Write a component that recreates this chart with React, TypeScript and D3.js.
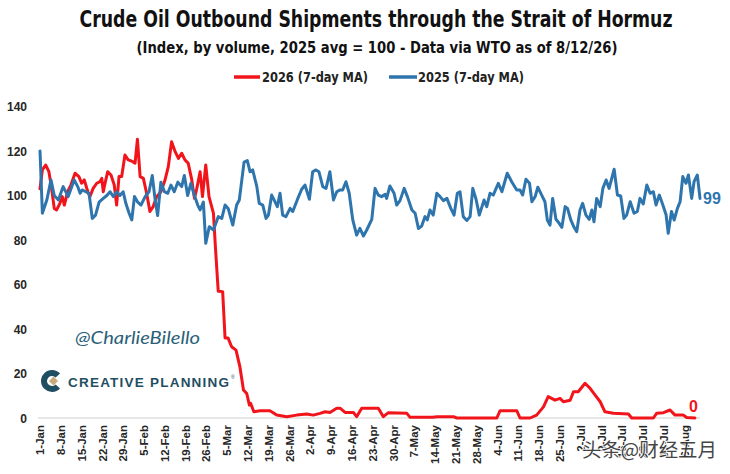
import React from "react";
import * as d3 from "d3";

const W = 730;
const H = 474;

const xTickLabels = [
  "1-Jan", "8-Jan", "15-Jan", "22-Jan", "29-Jan", "5-Feb", "12-Feb", "19-Feb", "26-Feb",
  "5-Mar", "12-Mar", "19-Mar", "26-Mar", "2-Apr", "9-Apr", "16-Apr", "23-Apr", "30-Apr",
  "7-May", "14-May", "21-May", "28-May", "4-Jun", "11-Jun", "18-Jun", "25-Jun",
  "2-Jul", "9-Jul", "16-Jul", "23-Jul", "30-Jul", "6-Aug",
];
const xTickDays = xTickLabels.map((_, i) => i * 7);
const yTicks = [0, 20, 40, 60, 80, 100, 120, 140];

// [day offset from 1-Jan, index value]
const series2026: [number, number][] = [
  [0, 103], [0.8, 111.5], [1.9, 113.7], [3, 110.7], [3.9, 103.2], [4.8, 94.2], [5.6, 93.5],
  [6.7, 96.5], [7.5, 99.5], [8.2, 95.7], [9.3, 101.7], [10.4, 104.7], [11.8, 110], [13.1, 108.5],
  [14, 105.5], [14.9, 107], [16.1, 101.7], [16.8, 99.5], [17.9, 103.2], [19.1, 105.5], [20.2, 106.2],
  [20.8, 107.7], [21.3, 101.7], [21.9, 105.5], [22.8, 110.7], [23.9, 109.2], [25, 104.7], [25.8, 95.7],
  [26.6, 108.5], [27.5, 108.5], [28.6, 118.2], [29.7, 116], [31.1, 115.3], [32, 114.5], [32.8, 125.3],
  [33.7, 108.5], [34.8, 107.7], [35.9, 101], [37, 92.8], [38.1, 95], [39.3, 99.5], [40.7, 101.7],
  [42.1, 107], [43.2, 113], [44.3, 124.2], [45.5, 119.7], [46.6, 116.7], [47.7, 119], [48.8, 116],
  [49.9, 114.5], [51.1, 107], [52, 98.7], [52.8, 103.2], [53.9, 110.7], [54.7, 99.5], [55.8, 113.7],
  [56.9, 99.5], [58.4, 92], [59, 78], [60, 57], [61.5, 56.8], [62.3, 36], [63.3, 36], [64.5, 32],
  [66, 30.5], [67.3, 23], [68.5, 12.6], [69.6, 11], [70.5, 5.8], [70.9, 6.6], [72, 2.8], [74.1, 3.3],
  [77.4, 3.3], [79.7, 1.3], [83.1, 0.6], [86.4, 1.3], [89.8, 1.8], [92, 1.3], [94.3, 2.1], [96, 2.8],
  [97.6, 2.5], [99.9, 4.4], [101, 4.4], [102.7, 2.5], [105.5, 2.5], [106.6, 0.6], [108.3, 4.4],
  [113.9, 4.4], [115.6, 0.6], [117.3, 2.4], [123.5, 2.1], [124.6, 0.3], [132.3, 0.3], [133.6, 0.6],
  [139.2, 0.6], [140.3, 0], [153.8, 0], [154.9, 3.3], [160.5, 3.3], [161.6, 0], [165, 0], [167.2, 1.3],
  [169.5, 5], [171.1, 9.6], [173.4, 8], [175.1, 8.8], [176.2, 7.3], [178.5, 8], [179.6, 11.8],
  [181.2, 11.8], [183.5, 15.6], [185.2, 13.3], [186.9, 10.3], [188.6, 7.3], [190.2, 2.8], [193, 2.1],
  [198.1, 1.8], [199.2, 0], [206.5, 0], [207.6, 2.1], [209.9, 2.4], [212.1, 3.6], [213.8, 1.3],
  [216.6, 1.3], [217.7, 0.2], [220.5, 0],
];

const series2025: [number, number][] = [
  [0, 120], [0.8, 92], [2.3, 98], [3.7, 107], [4.8, 100], [6.2, 98], [7.8, 104], [9.5, 99.5],
  [11.5, 107], [12.7, 104], [13.5, 101], [14.2, 102.5], [15.4, 101.7], [16.5, 101], [17.6, 89.7],
  [18.7, 91.2], [19.9, 97], [21.3, 98.7], [22.5, 100], [23.6, 101.7], [24.7, 99.5], [25.8, 101.7],
  [26.9, 100], [28, 101.7], [28.9, 96.5], [30, 92], [30.9, 89], [31.8, 99.5], [32.9, 97], [34, 95.7],
  [35.4, 99.5], [36.7, 101.7], [37.8, 109], [38.7, 98.7], [39.6, 91], [40.7, 106], [41.9, 101.7],
  [43, 101], [44.1, 104.7], [45.2, 101.7], [46.4, 106], [47.7, 104], [48.6, 109], [49.7, 100],
  [50.8, 105.5], [52, 100], [53.1, 95.7], [53.9, 93.5], [55, 97], [55.8, 78.5], [57, 86], [58.4, 84.5],
  [60, 90.5], [61.2, 89.7], [62.3, 95.7], [63.4, 94], [64.9, 86.7], [66.2, 95.7], [67.1, 98],
  [68.7, 115], [69.8, 115.7], [70.7, 110.7], [71.6, 111.5], [73, 104], [73.8, 96.5], [75, 95.7],
  [76.1, 89.7], [76.9, 91.2], [78, 100.2], [78.8, 98], [79.9, 95], [80.8, 101], [81.7, 91.2],
  [82.8, 90.5], [84.2, 94.2], [85.1, 92.8], [86.6, 98], [88.1, 102.8], [89.2, 104.7], [90.7, 98.3],
  [91.8, 110.7], [92.9, 111.5], [93.9, 110.7], [95.2, 104], [96.3, 103.2], [97.6, 110.7], [98.8, 98],
  [99.9, 101.7], [101, 102.5], [101.9, 102.5], [103, 106.2], [104.1, 101], [105.3, 89], [106.6, 82.2],
  [107.7, 85.2], [108.9, 81.8], [110, 84.5], [111.7, 89.3], [112.8, 103.2], [113.9, 100.2], [115, 99.5],
  [116.2, 100.5], [116.7, 98.7], [117.8, 104.3], [119.2, 101], [120.1, 95.7], [121.2, 97.7],
  [122.6, 103.2], [123.7, 99.5], [125.2, 93.5], [126.3, 92], [127.4, 85.2], [128.5, 86.3], [129.6, 90.5],
  [130.4, 89], [131.3, 93.5], [132.4, 91.2], [133.6, 101], [134.7, 99.5], [135.8, 97.7], [137, 98.7],
  [138.3, 94.2], [139.4, 91.2], [140.5, 101], [141.4, 101.7], [142.5, 90.5], [143.7, 88.8], [144.8, 90.5],
  [145.7, 103.2], [146.8, 98.3], [147.9, 91.2], [149.5, 98], [150.4, 95], [151.5, 101], [152.6, 100.2],
  [154.3, 105.5], [155.5, 101.7], [157.3, 110], [158.8, 106.2], [160.5, 102.5], [161.6, 102.5],
  [162.5, 100.2], [163.6, 107.3], [164.8, 105.5], [165.6, 97.2], [166.7, 99.5], [167.6, 103.7],
  [168.9, 100.2], [170, 97.2], [170.8, 89], [171.7, 86.7], [172.6, 98.7], [173.7, 89.3], [174.8, 87.5],
  [175.7, 85.7], [176.8, 95], [177.6, 94.2], [178.7, 89], [179.8, 85.7], [180.7, 83.7], [181.8, 93.5],
  [182.7, 96.5], [183.8, 91.2], [184.9, 89.3], [185.8, 93.5], [186.5, 88.2], [187.4, 98.7], [188.6, 95],
  [189.5, 103.2], [190.6, 107], [191.6, 103.2], [193.3, 111.8], [194.4, 100.2], [195.5, 99.8],
  [196.6, 89.7], [197.5, 91.2], [198.7, 97.2], [200, 92], [201.1, 92.8], [202, 98.7], [203.1, 96.2],
  [204.3, 104.7], [205.4, 101], [206.5, 101.7], [207.4, 95.7], [208.5, 100.2], [209.7, 95.7],
  [210.8, 91.2], [211.5, 83], [212.6, 92.8], [213.5, 89], [214.6, 94.2], [215.5, 97.2], [216.4, 108.5],
  [217.5, 105.5], [218.3, 109.2], [219.4, 98.7], [220.2, 106.2], [221.3, 109.2], [222.2, 98.7],
];

const RED = "#f2141b";
const BLUE = "#2f75ad";
const NARROW = "'Liberation Sans Narrow', 'DejaVu Sans Condensed', 'Liberation Sans', sans-serif";
const SANS = "'Liberation Sans', Arial, sans-serif";

export default function App() {
  const x = d3.scaleLinear().domain([0, 222.2]).range([40, 700]);
  const y = d3.scaleLinear().domain([0, 140]).range([418, 106.5]);
  const line = d3
    .line<[number, number]>()
    .x((d) => x(d[0]))
    .y((d) => y(d[1]));

  const last25 = series2025[series2025.length - 1];
  const last26 = series2026[series2026.length - 1];

  const cArc = d3.arc()({
    innerRadius: 5,
    outerRadius: 11,
    startAngle: Math.PI / 2 + 0.75,
    endAngle: Math.PI / 2 + 2 * Math.PI - 0.75,
  } as any) as string;

  return (
    <svg
      width={W}
      height={H}
      viewBox={`0 0 ${W} ${H}`}
      style={{ position: "absolute", left: 0, top: 0, background: "#fff" }}
    >
      <rect x={0} y={0} width={W} height={H} fill="#fff" />
      <text x={376} y={27} textAnchor="middle" fontFamily={NARROW} fontWeight={700} fontSize={23}
        fill="#111" textLength={593} lengthAdjust="spacingAndGlyphs">
        Crude Oil Outbound Shipments through the Strait of Hormuz
      </text>
      <text x={377} y={53} textAnchor="middle" fontFamily={NARROW} fontWeight={700} fontSize={16.5}
        fill="#111" textLength={481} lengthAdjust="spacingAndGlyphs">
        (Index, by volume, 2025 avg = 100 - Data via WTO as of 8/12/26)
      </text>

      {/* legend */}
      <line x1={234} x2={260} y1={77} y2={77} stroke={RED} strokeWidth={3.5} />
      <text x={262} y={82} fontFamily={NARROW} fontWeight={700} fontSize={14} fill="#222"
        textLength={106} lengthAdjust="spacingAndGlyphs">2026 (7-day MA)</text>
      <line x1={389} x2={417} y1={77} y2={77} stroke={BLUE} strokeWidth={3.5} />
      <text x={418} y={82} fontFamily={NARROW} fontWeight={700} fontSize={14} fill="#222"
        textLength={106} lengthAdjust="spacingAndGlyphs">2025 (7-day MA)</text>

      {/* y axis labels */}
      {yTicks.map((t) => (
        <text key={t} x={27} y={y(t) + 4.5} textAnchor="end" fontFamily={SANS} fontWeight={700}
          fontSize={12} fill="#262626">{t}</text>
      ))}

      {/* baseline */}
      <line x1={38} x2={700} y1={y(0)} y2={y(0)} stroke="#d0d0d0" strokeWidth={1.2} />

      {/* x axis labels */}
      {xTickDays.map((d, i) => (
        <text key={d} transform={`translate(${x(d)},425) rotate(-90)`} textAnchor="end" dy="0.36em"
          fontFamily={SANS} fontWeight={700} fontSize={11.5} fill="#262626">
          {xTickLabels[i]}
        </text>
      ))}

      {/* branding */}
      <text x={75} y={344} fontFamily="'Lato', 'Open Sans', sans-serif" fontStyle="italic" fontSize={17}
        fill="#2a5f78" textLength={125} lengthAdjust="spacingAndGlyphs">@CharlieBilello</text>
      <g transform="translate(52,381)">
        <path d={cArc} fill="#1f4e63" />
        <path d="M0,-4.5 L4.5,0 L0,4.5 L-4.5,0 Z" transform="translate(1.5,0)" fill="#c8a97c" />
      </g>
      <text x={68} y={387} fontFamily={SANS} fontWeight={700} fontSize={13.5} fill="#1f4e63"
        textLength={161} lengthAdjust="spacing">CREATIVE PLANNING</text>
      <text x={231} y={379} fontFamily={SANS} fontSize={5} fill="#1f4e63">®</text>

      {/* series */}
      <path d={line(series2026) ?? ""} fill="none" stroke={RED} strokeWidth={3}
        strokeLinejoin="round" strokeLinecap="round" />
      <path d={line(series2025) ?? ""} fill="none" stroke={BLUE} strokeWidth={3}
        strokeLinejoin="round" strokeLinecap="round" />

      {/* end labels */}
      <text x={703} y={y(last25[1]) + 6} fontFamily={SANS} fontWeight={700} fontSize={16} fill={BLUE}>
        {Math.round(last25[1])}
      </text>
      <text x={689} y={y(last26[1]) - 6} fontFamily={SANS} fontWeight={700} fontSize={16} fill={RED}>
        {Math.round(last26[1])}
      </text>

      {/* watermark */}
      <text x={582} y={457} fontFamily="'Noto Sans CJK SC', sans-serif" fontSize={19.5} fill="#333"
        stroke="#fff" strokeWidth={2} style={{ paintOrder: "stroke" }} opacity={0.9}
        textLength={135} lengthAdjust="spacingAndGlyphs">头条@财经五月</text>
    </svg>
  );
}
